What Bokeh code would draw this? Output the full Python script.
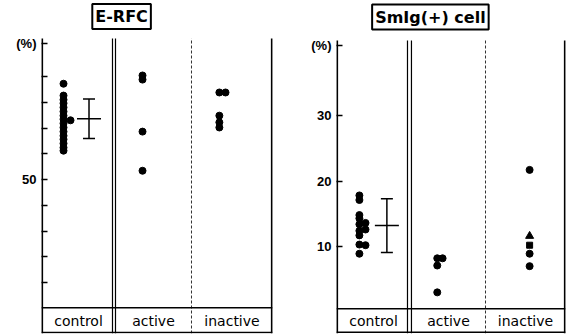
from bokeh.plotting import figure
from bokeh.layouts import row
from bokeh.models import Range1d, FixedTicker, Span, Label, Whisker, ColumnDataSource, TeeHead
from bokeh.core.properties import value
from bokeh.embed import file_html
from bokeh.resources import INLINE

# ---------------- data ----------------
groups = ["control", "active", "inactive"]

# E-RFC (%)
erfc_control = [68.6, 66.3, 65.5, 64.8, 64.0, 63.2, 62.4, 61.7, 60.9, 60.1, 59.3, 58.5, 57.8, 57.0, 56.2, 55.6]
erfc_control_side = [61.5]
erfc_control_mean = 61.8
erfc_control_sd = 3.85
erfc_active = [70.2, 69.4, 59.3, 51.7]
erfc_inactive = [66.9, 62.4, 61.1, 60.1]
erfc_inactive_side = [66.9]
erfc_ticks = [30, 35, 40, 45, 50, 55, 60, 65, 70]
erfc_labeled = [50]

# SmIg(+) cell (%)
smig_control = [17.8, 17.1, 14.8, 14.3, 13.4, 12.4, 11.7, 10.3, 8.9]
smig_control_side = [13.6, 12.6, 10.2]
smig_control_mean = 13.2
smig_control_sd = 4.1
smig_active = [8.2, 7.1, 3.0]
smig_active_side = [8.2]
smig_inactive_dots = [21.7, 8.9, 7.0]
smig_inactive_tri = [11.6]
smig_inactive_sq = [10.2]
smig_ticks = [10, 20, 30]
smig_labeled = [10, 20, 30]

FONT = "DejaVu Sans"


def base_fig(width, min_left, min_right, yr, ticks, labeled, pct_y):
    p = figure(width=width, height=335, x_range=Range1d(0, 3), y_range=Range1d(*yr),
               x_axis_location=None, toolbar_location=None, output_backend="svg",
               min_border_left=min_left, min_border_right=min_right,
               min_border_top=0, min_border_bottom=2)
    p.outline_line_color = None
    p.xgrid.visible = False
    p.ygrid.visible = False
    ax = p.yaxis[0]
    ax.ticker = FixedTicker(ticks=ticks + [pct_y])
    overrides = {t: (str(t) if t in labeled else "") for t in ticks}
    overrides[pct_y] = "(%)"
    ax.major_label_overrides = overrides
    ax.axis_line_color = None
    ax.major_tick_in = 6
    ax.major_tick_out = 0
    ax.major_tick_line_width = 1.5
    ax.minor_tick_line_color = None
    ax.major_label_standoff = 5
    ax.major_label_text_font = "Liberation Sans"
    ax.major_label_text_font_style = "bold"
    ax.major_label_text_font_size = "13px"
    ax.major_label_text_color = "black"
    return p


def decorate(p, y_bot, y_top, dbl, dash, band_y, bottom_y, label_y, title, title_xy):
    # left axis line and vertical dividers, from the bottom of the box to the top of the data area
    p.segment(x0=[0.008], y0=[y_bot], x1=[0.008], y1=[y_top], line_color="black", line_width=2)
    p.segment(x0=dbl, y0=[y_bot] * 2, x1=dbl, y1=[y_top] * 2, line_color="black", line_width=1.2)
    p.segment(x0=[dash], y0=[y_bot], x1=[dash], y1=[y_top], line_color="#333333",
              line_width=1, line_dash="3 2")
    p.segment(x0=[2.992], y0=[y_bot], x1=[2.992], y1=[y_top], line_color="black", line_width=2)
    p.add_layout(Span(location=band_y, dimension="width", line_color="black", line_width=1.5))
    p.add_layout(Span(location=bottom_y, dimension="width", line_color="black", line_width=1.5))
    centers = [(0 + dbl[0]) / 2 + 0.02, (dbl[1] + dash) / 2, (dash + 3) / 2]
    p.text(x=centers, y=[label_y] * 3, text=groups, text_font=value(FONT),
           text_font_size="14px", text_align="center", text_baseline="middle", text_color="black")
    p.add_layout(Label(x=title_xy[0], y=title_xy[1], text=title, text_font=FONT,
                       text_font_style="bold", text_font_size="16px", text_align="center",
                       text_baseline="middle", border_line_color="black", border_line_width=2,
                       padding=3, text_color="black"))


def mean_bar(p, x, mean, sd):
    src = ColumnDataSource(dict(base=[x], upper=[mean + sd], lower=[mean - sd]))
    p.add_layout(Whisker(base="base", upper="upper", lower="lower", source=src,
                         dimension="height", line_width=1.5, line_color="black",
                         upper_head=TeeHead(size=12, line_width=1.5, line_color="black"),
                         lower_head=TeeHead(size=12, line_width=1.5, line_color="black")))
    p.scatter(x=[x], y=[mean], marker="dash", size=24, line_width=1.5, color="black")


DOT = 7

# ---------------- left: E-RFC ----------------
p1 = base_fig(293, 41, 21, (20.1, 84.76), erfc_ticks, erfc_labeled, 76.4)
decorate(p1, y_bot=20.1, y_top=77.4, dbl=[0.922, 0.961], dash=1.948, band_y=25.1,
         bottom_y=20.3, label_y=22.6, title="E-RFC", title_xy=(1.04, 81.65))
p1.scatter(x=[0.286] * len(erfc_control), y=erfc_control, size=DOT, color="black")
p1.scatter(x=[0.377] * len(erfc_control_side), y=erfc_control_side, size=DOT, color="black")
mean_bar(p1, 0.617, erfc_control_mean, erfc_control_sd)
p1.scatter(x=[1.312] * len(erfc_active), y=erfc_active, size=DOT, color="black")
p1.scatter(x=[2.31] * len(erfc_inactive), y=erfc_inactive, size=DOT, color="black")
p1.scatter(x=[2.39] * len(erfc_inactive_side), y=erfc_inactive_side, size=DOT, color="black")

# ---------------- right: SmIg(+) cell ----------------
p2 = base_fig(274, 43, 2, (-3.28, 47.56), smig_ticks, smig_labeled, 40.69)
decorate(p2, y_bot=-3.28, y_top=41.45, dbl=[0.930, 0.982], dash=1.952, band_y=0.5,
         bottom_y=-3.1, label_y=-1.4, title="SmIg(+) cell", title_xy=(1.23, 45.04))
p2.scatter(x=[0.30] * len(smig_control), y=smig_control, size=DOT, color="black")
p2.scatter(x=[0.38] * len(smig_control_side), y=smig_control_side, size=DOT, color="black")
mean_bar(p2, 0.66, smig_control_mean, smig_control_sd)
p2.scatter(x=[1.32] * len(smig_active), y=smig_active, size=DOT, color="black")
p2.scatter(x=[1.39] * len(smig_active_side), y=smig_active_side, size=DOT, color="black")
p2.scatter(x=[2.53] * len(smig_inactive_dots), y=smig_inactive_dots, size=DOT, color="black")
p2.scatter(x=[2.53] * len(smig_inactive_tri), y=smig_inactive_tri, marker="triangle", size=8, color="black")
p2.scatter(x=[2.53] * len(smig_inactive_sq), y=smig_inactive_sq, marker="square", size=6, color="black")

layout = row(p1, p2)
open("out.html", "w").write(file_html(layout, INLINE))
